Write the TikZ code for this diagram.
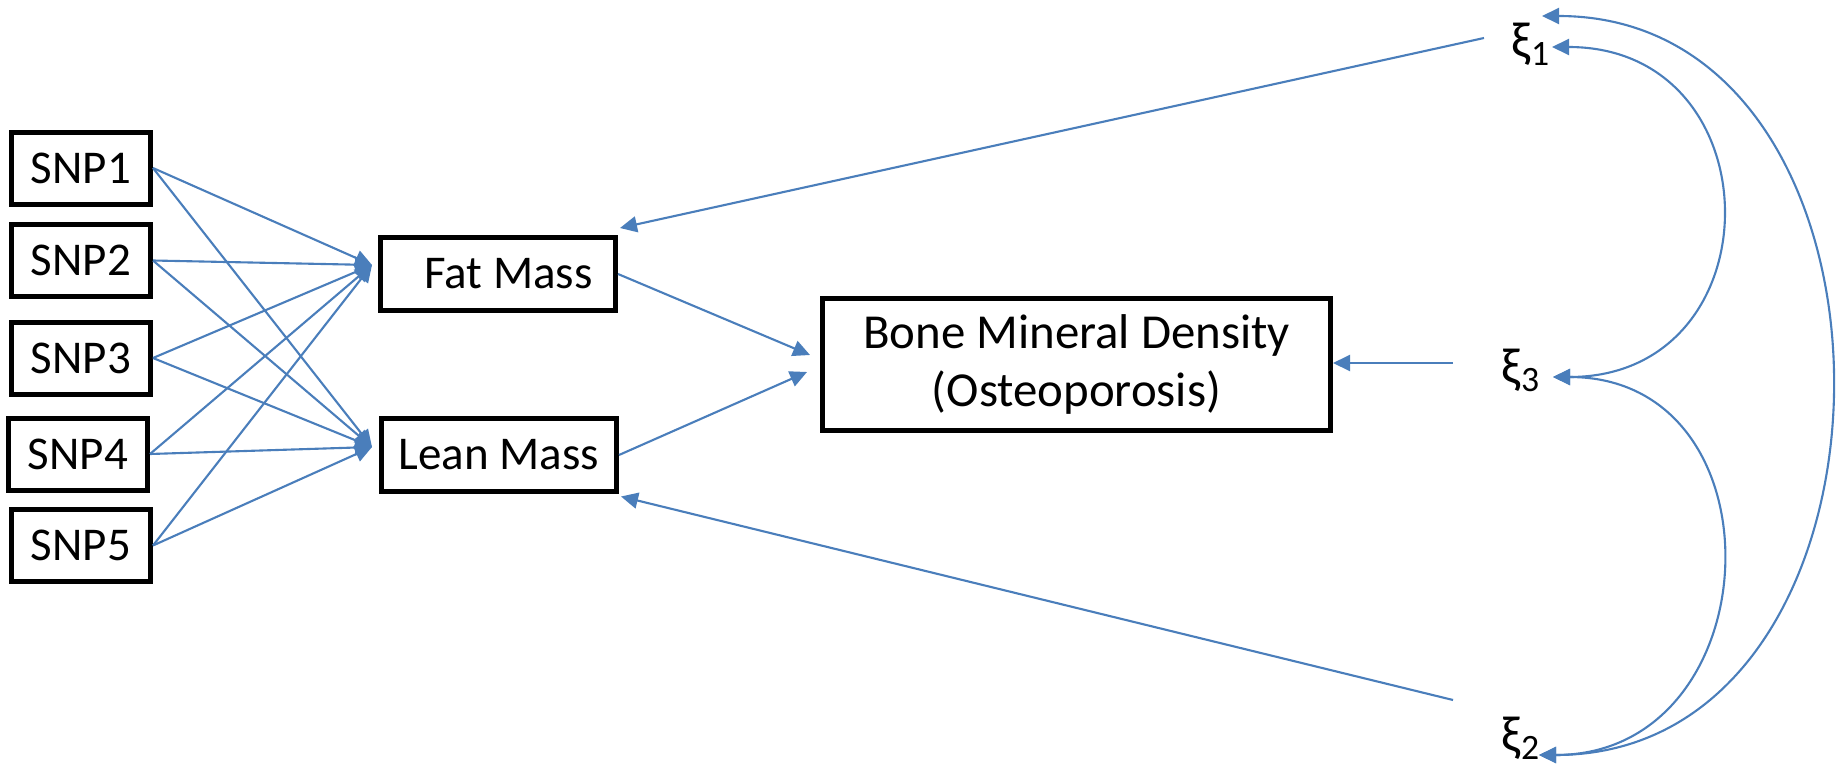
\documentclass[tikz,border=0pt]{standalone}
\usepackage{fontspec}
\setmainfont{Carlito}
\usetikzlibrary{arrows.meta}
\definecolor{pathblue}{HTML}{4A7EBB}

\begin{document}
\begin{tikzpicture}[
    >={Triangle[length=0.34cm,width=0.32cm]},
    var/.style={draw, line width=0.1cm, minimum height=1.44cm, inner sep=0pt, font=\fontsize{26.75}{32.4}\selectfont},
    snp/.style={var, minimum width=2.78cm},
    mass/.style={var, minimum width=4.7cm, minimum height=1.46cm},
    err/.style={inner sep=0pt, font=\fontsize{29}{34}\selectfont},
    effect/.style={->, pathblue, line width=1.2pt},
    cov/.style={<->, pathblue, line width=1.2pt}
  ]
    \useasboundingbox (0,0) rectangle (36.72,15.4);
    % SNPs:
    \node [snp] (snp1) at (1.62,12.04) {SNP1};
    \node [snp] (snp2) at (1.62,10.19) {SNP2};
    \node [snp] (snp3) at (1.62,8.24) {SNP3};
    \node [snp] (snp4) at (1.56,6.32) {SNP4};
    \node [snp] (snp5) at (1.62,4.49) {SNP5};
    % mediators:
    \node [mass] (fat) at (9.96,9.92) {\hspace*{0.42cm}Fat Mass};
    \node [mass] (lean) at (9.98,6.30) {Lean Mass};
    % outcome:
    \node [var, minimum width=10.16cm, minimum height=2.64cm, align=center, font=\fontsize{27.8}{33}\selectfont] (bmd) at (21.53,8.11) {Bone Mineral Density\\(Osteoporosis)};
    % errors:
    \node [err] (xi1) at (30.62,14.51) {ξ\textsubscript{1}};
    \node [err] (xi3) at (30.42,7.99) {ξ\textsubscript{3}};
    \node [err] (xi2) at (30.42,0.64) {ξ\textsubscript{2}};
    % SNP effects:
    \foreach \i in {1,...,5} {
        \draw [effect] (snp\i.east) -- ([shift={(-0.12,0.18)}]fat.west);
        \draw [effect] (snp\i.east) -- ([shift={(-0.14,0.16)}]lean.west);
    }
    % mediator effects:
    \draw [effect] (fat.east) -- ([shift={(-0.2,0.19)}]bmd.west);
    \draw [effect] (lean.east) -- ([shift={(-0.26,-0.15)}]bmd.west);
    % error terms:
    \draw [effect] ([shift={(-0.94,0.13)}]xi1.center) -- ([shift={(0.04,0.14)}]fat.north east);
    \draw [effect] ([shift={(-1.36,0.15)}]xi3.center) -- ([yshift=0.03cm]bmd.east);
    \draw [effect] ([shift={(-1.36,0.76)}]xi2.center) -- ([shift={(0.04,-0.05)}]lean.south east);
    % covariances:
    \draw [cov] ([shift={(0.42,-0.05)}]xi1.center) .. controls +(4.49,0) and +(4.49,0) .. ([shift={(0.64,-0.13)}]xi3.center);
    \draw [cov] ([shift={(0.64,-0.13)}]xi3.center) .. controls +(4.67,0) and +(4.67,0) .. ([shift={(0.36,-0.34)}]xi2.center);
    \draw [cov] ([shift={(0.22,0.57)}]xi1.center) .. controls +(7.72,0) and +(7.72,0) .. ([shift={(0.36,-0.34)}]xi2.center);
\end{tikzpicture}
\end{document}
